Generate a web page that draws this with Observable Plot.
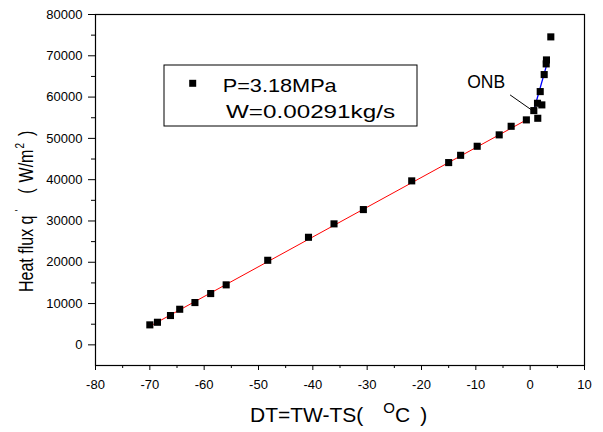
<!DOCTYPE html>
<html>
<head>
<meta charset="utf-8">
<script src="https://cdn.jsdelivr.net/npm/d3@7"></script>
<script src="https://cdn.jsdelivr.net/npm/@observablehq/plot@0.6"></script>
<style>
  body { margin: 0; background: #fff; }
  #chart svg { display: block; }
</style>
</head>
<body>
<div id="chart"></div>
<script>
// ---- data ----
const dtValues   = [-70, -68.6, -66.2, -64.5, -61.7, -58.8, -55.95, -48.3, -40.8, -36.1, -30.7,
                    -21.8, -15.0, -12.8, -9.75, -5.7, -3.5, -0.7, 0.67, 1.4, 1.35, 2.15, 1.85,
                    2.58, 2.95, 3.0, 3.8];
const fluxValues = [4840, 5470, 7100, 8620, 10240, 12420, 14530, 20480, 26050, 29300, 32760,
                    39710, 44140, 45900, 48090, 50850, 52930, 54480, 56730, 54870, 58500, 58110, 61330,
                    65450, 68040, 69000, 74580];

// linear fit before ONB (red) and after ONB (blue)
const singlePhaseFitX = [-70, -0.8];
const singlePhaseFitY = [4500, 54400];
const boilingFitX = [0.65, 3.3];
const boilingFitY = [56700, 69000];

// ONB annotation
const onbLabel = ["ONB"];
const onbLabelX = [-8.1];
const onbLabelY = [63600];
const onbPointerX = [-3.7, 0.42];
const onbPointerY = [60530, 56730];

// ticks
const xTicks = [-80, -70, -60, -50, -40, -30, -20, -10, 0, 10];
const xMinorTicks = [-75, -65, -55, -45, -35, -25, -15, -5, 5];
const yTicks = [0, 10000, 20000, 30000, 40000, 50000, 60000, 70000, 80000];
const yMinorTicks = [5000, 15000, 25000, 35000, 45000, 55000, 65000, 75000];

// legend / titles
const legendLabels = ["P=3.18MPa", "W=0.00291kg/s"];
const xTitleParts = ["DT=TW-TS(", "O", "C", ")"];
const yTitleParts = ["Heat flux q", "'", "(", "W/m", "2", ")"];

// ---- build ----
const points = dtValues.map((x, i) => ({x, y: fluxValues[i]}));
const redLine = singlePhaseFitX.map((x, i) => ({x, y: singlePhaseFitY[i]}));
const blueLine = boilingFitX.map((x, i) => ({x, y: boilingFitY[i]}));

const font = "'Liberation Sans', Arial, Helvetica, sans-serif";

const svgNode = Plot.plot({
  width: 603,
  height: 432,
  marginLeft: 95,
  marginRight: 19,
  marginTop: 14,
  marginBottom: 67,
  x: {domain: [-80, 10]},
  y: {domain: [-5000, 80000]},
  style: {fontFamily: font, fontSize: "13px", color: "black", background: "white"},
  marks: [
    Plot.axisX(xTicks, {tickSize: 5, tickPadding: 9, tickFormat: d => String(d), label: null, fontSize: 13, stroke: "black"}),
    Plot.axisX(xMinorTicks, {tickSize: 3, tickFormat: () => "", label: null, stroke: "black"}),
    Plot.axisY(yTicks, {tickSize: 7, tickPadding: 6, tickFormat: d => String(d), label: null, fontSize: 13, stroke: "black"}),
    Plot.axisY(yMinorTicks, {tickSize: 4, tickFormat: () => "", label: null, stroke: "black"}),
    Plot.line(redLine, {x: "x", y: "y", stroke: "#ff0000", strokeWidth: 1}),
    Plot.line(blueLine, {x: "x", y: "y", stroke: "#0000ff", strokeWidth: 1.3}),
    Plot.link([0], {x1: () => onbPointerX[0], y1: () => onbPointerY[0], x2: () => onbPointerX[1], y2: () => onbPointerY[1], stroke: "black", strokeWidth: 1}),
    Plot.dot(points, {x: "x", y: "y", symbol: "square", r: 4, fill: "black", stroke: "none"}),
    Plot.text(onbLabel, {x: onbLabelX, y: onbLabelY, text: d => d, fontSize: 17.5, fill: "black", textAnchor: "middle"}),
    Plot.frame({stroke: "black", strokeWidth: 1.2})
  ]
});

const svg = d3.select(svgNode);

// legend box
const lg = svg.append("g").attr("font-family", font).attr("fill", "black").attr("text-anchor", "start");
lg.append("rect").attr("x", 164).attr("y", 65).attr("width", 253).attr("height", 61)
  .attr("fill", "white").attr("stroke", "black").attr("stroke-width", 1);
lg.append("rect").attr("x", 189.2).attr("y", 79.8).attr("width", 7).attr("height", 7).attr("fill", "black");
lg.append("text").attr("x", 222.7).attr("y", 91.7).attr("font-size", 19).attr("text-anchor", "start")
  .attr("textLength", 114).attr("lengthAdjust", "spacingAndGlyphs").text(legendLabels[0]);
lg.append("text").attr("x", 226).attr("y", 117.5).attr("font-size", 19).attr("text-anchor", "start")
  .attr("textLength", 169).attr("lengthAdjust", "spacingAndGlyphs").text(legendLabels[1]);

// x title
const xt = svg.append("text").attr("x", 250).attr("y", 422).attr("font-family", font)
  .attr("font-size", 21).attr("fill", "black").attr("text-anchor", "start");
xt.append("tspan").text(xTitleParts[0]);
xt.append("tspan").attr("dx", 20).attr("dy", -9).attr("font-size", 15).text(xTitleParts[1]);
xt.append("tspan").attr("dx", 0).attr("dy", 9).text(xTitleParts[2]);
xt.append("tspan").attr("dx", 10).text(xTitleParts[3]);

// y title (rotated)
const yt = svg.append("text").attr("transform", "translate(33,292) scale(1.25,1) rotate(-90)")
  .attr("font-family", font).attr("font-size", 16).attr("fill", "black").attr("text-anchor", "start");
yt.append("tspan").text(yTitleParts[0]);
yt.append("tspan").attr("dx", 4).attr("dy", -8).attr("font-size", 9).text(yTitleParts[1]);
yt.append("tspan").attr("dx", 16).attr("dy", 8).text(yTitleParts[2]);
yt.append("tspan").attr("dx", 6).text(yTitleParts[3]);
yt.append("tspan").attr("dx", 1).attr("dy", -7).attr("font-size", 10).text(yTitleParts[4]);
yt.append("tspan").attr("dx", 7).attr("dy", 7).text(yTitleParts[5]);

document.getElementById("chart").appendChild(svgNode);
</script>
</body>
</html>
